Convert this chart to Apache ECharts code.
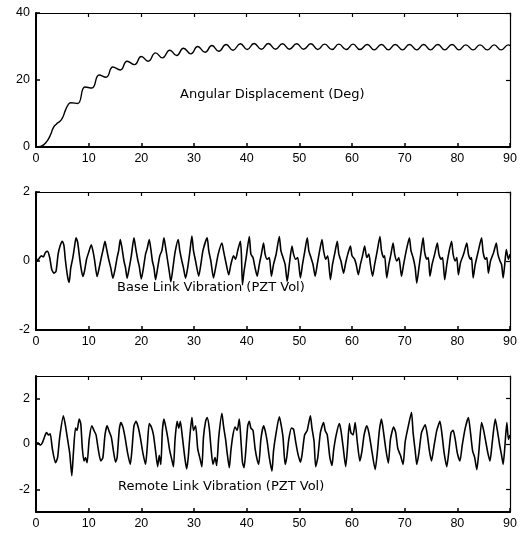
<!DOCTYPE html>
<html><head><meta charset="utf-8">
<script src="https://cdn.jsdelivr.net/npm/echarts@6/dist/echarts.min.js"></script>
<style>html,body{margin:0;padding:0;background:#fff}#c{width:520px;height:533px}</style>
</head><body><div id="c"></div><script>
const xTicks = [0,10,20,30,40,50,60,70,80,90];
const angTicks = [0,20,40];
const baseTicks = [-2,0,2];
const remoteTicks = [-2,0,2];
const panelLabels = ['Angular Displacement (Deg)','Base Link Vibration (PZT Vol)','Remote Link Vibration (PZT Vol)'];

const angular = [[0,0],[0.8,0.2],[1.5,0.7],[2.2,2.0],[2.8,3.8],[3.3,5.8],[3.9,6.9],[4.5,7.6],[5.0,8.6],[5.6,11.0],[6.1,12.6],
[6.6,13.2],[7.9,13.0],[9.3,17.9],[10.6,17.6],[12.0,21.5],[13.3,20.8],[14.6,23.9],[16.0,23.0],[17.3,25.6],[18.7,24.6],
[20.0,27.0],[21.3,25.6],[22.7,28.1],[24.0,26.6],[25.4,28.9],[26.7,27.3],[28.0,29.5],[29.4,27.8],[30.7,30.0],[32.1,28.3],
[33.4,30.3],[34.7,28.6],[36.1,30.6],[37.4,28.9],[38.8,30.8],[40.1,29.1],[41.4,30.9],[42.8,29.2],[44.1,30.9],[45.5,29.2],
[46.8,30.8],[48.1,29.2],[49.5,30.8],[50.8,29.2],[52.2,30.8],[53.5,29.1],[54.8,30.7],[56.2,29.1],[57.5,30.7],[58.9,29.1],
[60.2,30.7],[61.5,29.1],[62.9,30.6],[64.2,29.0],[65.6,30.6],[66.9,29.0],[68.2,30.6],[69.6,29.0],[70.9,30.6],[72.3,29.0],
[73.6,30.6],[74.9,29.0],[76.3,30.6],[77.6,29.0],[79.0,30.6],[80.3,29.0],[81.6,30.5],[83.0,29.0],[84.3,30.5],[85.7,29.0],
[87.0,30.5],[88.3,29.0],[89.7,30.5],[90,30.2]];

const baseLink = [[0,0.1],[0.3,0.0],[0.6,0.08],[1.0,0.15],[1.4,0.12],[1.8,0.25],[2.2,0.28],[2.6,0.1],[3.0,-0.25],[3.4,-0.35],[3.8,-0.3],[4.2,0.2],[4.6,0.45],[5.0,0.57],[5.3,0.45],[5.6,0.0],[6.0,-0.45],[6.3,-0.62],[6.6,-0.2],[7.0,0.1],[7.3,0.4],[7.6,0.67],[7.9,0.55],[8.2,0.2],[8.5,-0.15],[8.9,-0.45],[9.2,-0.3],[9.6,0.05],[10.0,0.25],[10.5,0.47],[10.8,0.3],[11.1,0.05],[11.6,-0.45],[12.0,-0.2],[12.4,0.1],[12.7,0.3],[13.1,0.57],[13.4,0.35],[13.8,0.05],[14.2,-0.2],[14.6,-0.5],[15.0,-0.25],[15.4,0.1],[15.7,0.3],[16.0,0.62],[16.3,0.4],[16.7,0.0],[17.0,-0.2],[17.3,-0.5],[17.7,-0.2],[18.1,0.15],[18.6,0.67],[18.9,0.4],[19.3,0.05],[19.6,-0.15],[20.0,-0.52],[20.4,-0.2],[20.8,0.2],[21.1,0.35],[21.5,0.62],[21.8,0.35],[22.1,0.0],[22.4,-0.2],[22.7,-0.54],[23.1,-0.2],[23.5,0.15],[23.9,0.3],[24.3,0.67],[24.6,0.4],[25.0,0.0],[25.3,-0.3],[25.6,-0.6],[26.0,-0.2],[26.4,0.25],[27.0,0.62],[27.3,0.3],[27.7,0.0],[28.0,-0.2],[28.4,-0.5],[28.8,-0.2],[29.2,0.25],[29.6,0.72],[29.9,0.3],[30.3,0.0],[30.9,-0.44],[31.3,-0.1],[31.7,0.3],[32.5,0.67],[32.8,0.3],[33.2,0.0],[33.7,-0.49],[34.1,-0.2],[34.6,0.2],[35.3,0.52],[35.6,0.3],[36.0,0.0],[36.6,-0.4],[37.0,-0.1],[37.5,0.15],[37.9,0.05],[38.3,0.3],[38.8,0.57],[39.0,0.2],[39.2,-0.69],[39.5,-0.3],[39.9,0.1],[40.5,0.71],[40.8,0.2],[41.2,0.1],[41.6,-0.2],[42.0,-0.44],[42.4,-0.1],[42.8,0.2],[43.2,0.52],[43.5,0.2],[43.9,0.05],[44.3,0.1],[44.7,-0.44],[45.1,-0.1],[45.6,0.2],[46.2,0.71],[46.5,0.3],[46.9,0.1],[47.3,-0.1],[47.7,-0.59],[48.1,-0.1],[48.6,0.43],[48.9,0.2],[49.3,0.05],[49.7,0.1],[50.2,-0.49],[50.6,-0.1],[51.0,0.25],[51.5,0.67],[51.8,0.3],[52.2,0.1],[52.6,-0.1],[53.0,-0.44],[53.4,-0.1],[53.8,0.25],[54.3,0.62],[54.6,0.3],[55.0,0.05],[55.4,0.15],[55.9,-0.54],[56.3,-0.1],[56.7,0.2],[57.2,0.57],[57.5,0.2],[57.9,0.0],[58.4,-0.35],[58.8,-0.05],[59.2,0.2],[59.7,0.43],[60.0,0.15],[60.5,0.05],[60.8,-0.1],[61.2,-0.4],[61.6,-0.1],[62.0,0.15],[62.4,0.43],[62.8,0.1],[63.2,0.2],[63.5,-0.1],[63.9,-0.44],[64.3,-0.1],[64.8,0.3],[65.3,0.71],[65.6,0.3],[66.0,0.1],[66.2,0.15],[66.6,-0.49],[67.0,-0.1],[67.4,0.2],[67.8,0.52],[68.1,0.2],[68.5,0.0],[68.9,0.1],[69.4,-0.44],[69.8,-0.1],[70.3,0.3],[70.9,0.67],[71.2,0.3],[71.6,0.1],[72.0,-0.2],[72.3,-0.64],[72.7,-0.2],[73.1,0.25],[73.5,0.67],[73.8,0.25],[74.2,0.05],[74.5,0.1],[74.8,-0.44],[75.2,-0.1],[75.7,0.2],[76.2,0.52],[76.5,0.2],[76.9,0.05],[77.2,0.1],[77.6,-0.54],[78.0,-0.1],[78.4,0.25],[78.9,0.57],[79.2,0.2],[79.6,0.0],[79.9,0.1],[80.2,-0.4],[80.6,-0.05],[81.2,0.2],[81.8,0.52],[82.1,0.2],[82.5,0.05],[82.7,0.1],[83.0,-0.49],[83.4,-0.1],[84.0,0.3],[84.6,0.67],[84.9,0.25],[85.3,0.05],[85.6,0.1],[85.9,-0.35],[86.3,0.0],[86.9,0.25],[87.4,0.52],[87.7,0.2],[88.1,0.0],[88.4,-0.1],[88.7,-0.49],[89.0,-0.1],[89.3,0.33],[89.7,0.05],[90.0,0.2]];

const remoteLink = [[0,0],[0.4,0.05],[0.8,-0.05],[1.2,0.05],[1.6,0.3],[2.0,0.5],[2.4,0.4],[2.7,0.45],[3.1,-0.2],[3.7,-0.83],[4.1,-0.6],[4.5,0.3],[5.2,1.24],[5.6,0.8],[6.0,0.2],[6.4,-0.4],[6.8,-1.4],[7.1,-0.4],[7.5,0.7],[7.8,0.6],[8.2,1.1],[8.5,0.9],[8.8,-0.2],[9.1,-0.75],[9.4,-0.6],[9.7,-0.83],[10.1,0.2],[10.6,0.8],[11.0,0.6],[11.4,0.4],[11.8,-0.2],[12.3,-0.75],[12.7,-0.6],[13.1,0.4],[13.5,0.8],[13.9,0.55],[14.3,0.3],[14.7,-0.3],[15.1,-0.8],[15.4,-0.6],[15.8,0.6],[16.1,0.95],[16.5,0.75],[16.9,0.3],[17.4,-0.4],[17.9,-0.9],[18.2,-0.3],[18.6,0.8],[19.0,1.0],[19.4,0.75],[19.8,0.3],[20.3,-0.4],[20.8,-0.9],[21.1,-0.2],[21.5,0.9],[21.9,0.75],[22.3,0.4],[22.7,-0.3],[23.1,-1.0],[23.4,-0.5],[23.7,-0.9],[24.0,0.6],[24.3,1.1],[24.6,0.8],[25.0,0.3],[25.4,-0.3],[25.8,-0.7],[26.1,-1.0],[26.4,0.2],[26.8,1.0],[27.1,0.7],[27.4,1.0],[27.8,0.3],[28.2,-0.5],[28.6,-1.1],[28.9,-0.6],[29.2,0.3],[29.6,1.17],[29.9,0.6],[30.3,0.8],[30.7,-0.2],[31.2,-0.7],[31.5,-1.0],[31.8,0.3],[32.2,1.0],[32.5,1.17],[32.9,0.7],[33.2,-0.1],[33.6,-0.9],[34.0,-0.6],[34.3,-0.95],[34.7,0.3],[35.3,1.35],[35.6,0.8],[36.0,0.2],[36.3,-0.4],[36.7,-1.05],[37.0,-0.3],[37.4,0.4],[37.8,0.75],[38.2,0.6],[38.6,1.1],[38.9,0.2],[39.2,-0.8],[39.5,-1.05],[39.8,-0.4],[40.2,0.8],[40.5,1.0],[40.8,0.7],[41.2,0.6],[41.6,-0.2],[42.0,-0.7],[42.3,-0.9],[42.7,0.2],[43.2,0.8],[43.5,0.6],[43.9,0.1],[44.3,-0.6],[44.8,-1.2],[45.1,-0.3],[45.6,0.5],[46.2,1.2],[46.5,0.9],[46.9,0.3],[47.3,-0.9],[47.6,-0.6],[48.0,0.2],[48.5,0.7],[48.9,0.65],[49.3,0.1],[49.7,-0.4],[50.2,-0.8],[50.5,-0.5],[51.0,0.4],[51.5,0.6],[52.1,1.24],[52.4,0.7],[52.8,0.1],[53.1,-1.0],[53.5,-0.6],[54.0,0.5],[54.6,0.95],[54.9,0.6],[55.3,0.4],[55.8,-0.6],[56.2,-0.95],[56.5,-0.3],[57.0,0.4],[57.6,0.9],[57.9,0.6],[58.3,-0.1],[58.8,-1.0],[59.1,-0.3],[59.5,0.9],[59.8,0.5],[60.2,0.4],[60.6,0.95],[61.0,0.1],[61.5,-0.75],[61.9,-0.3],[62.3,0.4],[62.8,0.8],[63.2,0.5],[63.7,-0.2],[64.4,-1.13],[64.8,-0.4],[65.2,0.6],[65.6,1.1],[66.0,0.5],[66.4,-0.2],[66.9,-0.85],[67.3,0.2],[67.9,0.75],[68.3,0.5],[68.7,-0.2],[69.2,-0.5],[69.7,-0.9],[70.1,0.1],[70.7,0.8],[71.3,1.4],[71.6,0.5],[72.0,-0.3],[72.3,-0.9],[72.7,-0.4],[73.2,0.5],[73.9,0.85],[74.3,0.4],[74.7,-0.3],[75.1,-0.75],[75.5,-0.2],[76.1,0.6],[76.7,1.0],[77.1,0.4],[77.5,-0.4],[78.0,-1.0],[78.4,-0.3],[78.8,0.5],[79.2,0.6],[79.6,0.2],[80.0,-0.4],[80.5,-0.75],[80.9,-0.1],[81.5,0.7],[82.1,1.17],[82.5,0.5],[82.9,-0.3],[83.3,-0.6],[83.7,-1.13],[84.1,-0.3],[84.6,0.95],[85.0,0.6],[85.4,0.1],[85.8,-0.4],[86.2,-0.75],[86.6,0.0],[87.2,1.1],[87.6,0.6],[88.0,0.0],[88.4,-0.5],[88.7,-0.9],[89.0,-0.2],[89.4,0.95],[89.7,0.2],[90.0,0.4]];

const FONT = '"Liberation Sans", Arial, Helvetica, sans-serif';
const grids = [
  {left:36, top:13, width:474, height:134},
  {left:36, top:192, width:474, height:138},
  {left:36, top:376, width:474, height:136}
];
const yRanges = [[0,40,angTicks],[-2,2,baseTicks],[-3,3,remoteTicks]];
const seriesData = [angular, baseLink, remoteLink];
const labelPos = [[180,88],[117,281],[118,480]];

const xAxis = [], yAxis = [], series = [], graphic = [];
grids.forEach((g, i) => {
  xAxis.push({type:'value', gridIndex:i, position:'bottom', min:0, max:90, interval:10,
    axisLine:{show:true, onZero:false, lineStyle:{color:'#000', width:2}},
    axisTick:{show:true, inside:true, length:4, lineStyle:{color:'#000', width:1.5}},
    axisLabel:{color:'#000', fontFamily:FONT, fontSize:12.5, margin:5, customValues:xTicks},
    splitLine:{show:false}});
  xAxis.push({type:'value', gridIndex:i, position:'top', min:0, max:90, interval:10,
    axisLine:{show:true, onZero:false, lineStyle:{color:'#000', width:1.2}},
    axisTick:{show:true, inside:true, length:4, lineStyle:{color:'#000', width:1.2}},
    axisLabel:{show:false}, splitLine:{show:false}});
  const [mn, mx, ticks] = yRanges[i];
  yAxis.push({type:'value', gridIndex:i, position:'left', min:mn, max:mx,
    axisLine:{show:true, onZero:false, lineStyle:{color:'#000', width:2}},
    axisTick:{show:true, inside:true, length:4, customValues:ticks, lineStyle:{color:'#000', width:1.5}},
    axisLabel:{color:'#000', fontFamily:FONT, fontSize:12.5, margin:6, customValues:ticks},
    splitLine:{show:false}});
  yAxis.push({type:'value', gridIndex:i, position:'right', min:mn, max:mx,
    axisLine:{show:true, onZero:false, lineStyle:{color:'#000', width:1.2}},
    axisTick:{show:true, inside:true, length:4, customValues:ticks, lineStyle:{color:'#000', width:1.2}},
    axisLabel:{show:false}, splitLine:{show:false}});
  series.push({type:'line', xAxisIndex:2*i, yAxisIndex:2*i, data:seriesData[i],
    showSymbol:false, smooth: i===0 ? 0.5 : 0.2, animation:false,
    lineStyle:{color:'#000', width: i===0 ? 1.4 : 1.6}});
  graphic.push({type:'text', left:labelPos[i][0], top:labelPos[i][1], silent:true,
    style:{text:panelLabels[i], fill:'#000', font:'13px "DejaVu Sans", sans-serif'}});
});

const chart = echarts.init(document.getElementById('c'), null, {renderer:'canvas'});
chart.setOption({animation:false, grid:grids, xAxis, yAxis, series, graphic});
</script></body></html>
